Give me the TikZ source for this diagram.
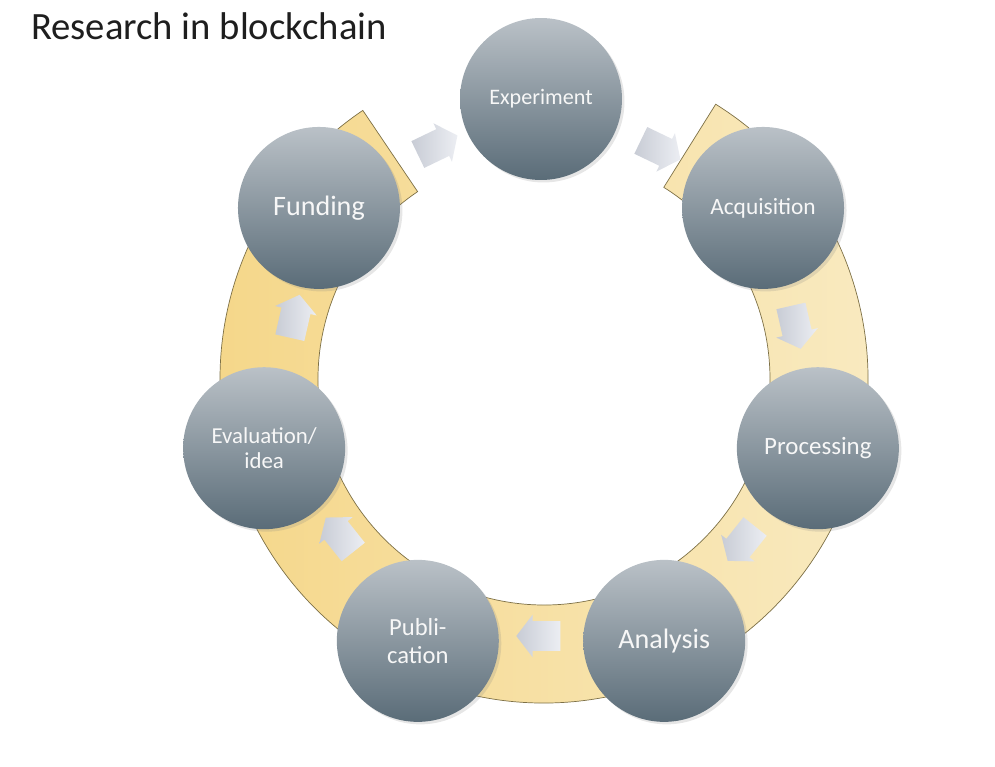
\documentclass[tikz,border=0pt]{standalone}
\usepackage{fontspec}
\setmainfont{Carlito}
\usetikzlibrary{shapes.arrows,shadows}

\definecolor{ringgold}{RGB}{245,215,138}
\definecolor{ringpale}{RGB}{249,235,195}
\definecolor{ringedge}{RGB}{125,112,70}
\definecolor{slatetop}{RGB}{186,193,199}
\definecolor{slatebot}{RGB}{90,108,120}
\definecolor{arrowlight}{RGB}{236,238,243}
\definecolor{arrowdark}{RGB}{200,204,213}
\definecolor{titlegray}{RGB}{30,30,30}

\begin{document}
\begin{tikzpicture}[x=0.02cm, y=0.02cm,
    stage/.style={circle, minimum size=3.24cm, inner sep=0pt, align=center,
        top color=slatetop, bottom color=slatebot, text=white!94!gray,
        drop shadow={opacity=0.2, shadow xshift=0.05cm, shadow yshift=-0.05cm}},
    flowarrow/.style={single arrow, minimum height=0.88cm, inner sep=0.29cm,
        single arrow head extend=0.13cm, single arrow tip angle=105,
        left color=arrowdark, right color=arrowlight}]
  \useasboundingbox (0,0) rectangle (995,-767);
  \node[anchor=base west, text=titlegray, font=\fontsize{22}{26}\selectfont] (title) at (25,-40) {Research in blockchain};
  \begin{scope}[shift={(544,-379)}]
    % the open ring behind the stages
    \draw[ringedge, thin, left color=ringgold, right color=ringpale]
      (58:324) arc[start angle=58, end angle=-236, radius=324]
      -- (124:226) arc[start angle=124, end angle=418, radius=226] -- cycle;
    % arrows between the stages
    \foreach \a in {115.71, 64.29, 12.86, -38.57, -90, -141.43, -192.86}
      \node[flowarrow, rotate=\a-90] (arr\a) at (\a:257) {};
  \end{scope}
  \begin{scope}[shift={(541,-385)}]
    % stages
    \node[stage, font=\fontsize{12.6}{15}\selectfont] (experiment) at (90:286) {Experiment};
    \node[stage, font=\fontsize{13.3}{16}\selectfont] (acquisition) at (38.57:284) {Acquisition};
    \node[stage, font=\fontsize{14.2}{17}\selectfont] (processing) at (-12.86:284) {Processing};
    \node[stage, font=\fontsize{16}{19}\selectfont] (analysis) at (-64.29:284) {Analysis};
    \node[stage, font=\fontsize{14}{16}\selectfont] (publication) at (-115.71:284) {Publi-\\cation};
    \node[stage, font=\fontsize{13}{14}\selectfont] (evaluation) at (-167.14:284) {Evaluation/\\idea};
    \node[stage, font=\fontsize{16}{19}\selectfont] (funding) at (-218.57:284) {Funding};
  \end{scope}
\end{tikzpicture}
\end{document}
